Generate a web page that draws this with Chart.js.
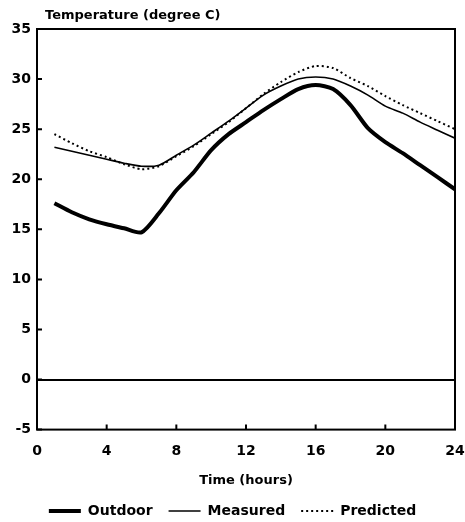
<!DOCTYPE html>
<html>
<head>
<meta charset="utf-8">
<script src="https://cdn.jsdelivr.net/npm/chart.js@4"></script>
<style>
  html, body { margin: 0; padding: 0; background: #fff; }
  #wrap { width: 465px; height: 522px; }
</style>
</head>
<body>
<div id="wrap"><canvas id="tempChart"></canvas></div>
<script>
// hours of the day, one reading per hour
const hours = [1, 2, 3, 4, 5, 6, 7, 8, 9, 10, 11, 12, 13, 14, 15, 16, 17, 18, 19, 20, 21, 22, 23, 24];

const outdoor = [17.6, 16.7, 16.0, 15.5, 15.1, 14.7, 16.6, 18.9, 20.7, 22.9, 24.5, 25.7, 26.9, 28.0, 29.0, 29.4, 29.0, 27.4, 25.1, 23.7, 22.6, 21.4, 20.2, 19.0];
const measured = [23.2, 22.8, 22.4, 22.0, 21.6, 21.3, 21.4, 22.4, 23.4, 24.6, 25.8, 27.1, 28.4, 29.3, 30.0, 30.2, 30.0, 29.3, 28.4, 27.3, 26.6, 25.7, 24.9, 24.1];
const predicted = [24.5, 23.6, 22.8, 22.2, 21.5, 21.0, 21.3, 22.3, 23.3, 24.5, 25.7, 27.1, 28.5, 29.7, 30.7, 31.3, 31.1, 30.1, 29.3, 28.3, 27.4, 26.6, 25.8, 25.0];

const xTicks = [0, 4, 8, 12, 16, 20, 24];
const yTicks = [-5, 0, 5, 10, 15, 20, 25, 30, 35];

const toPoints = vals => hours.map((h, i) => ({x: h, y: vals[i]}));

const fontFam = "'DejaVu Sans', sans-serif";

// frame, inward ticks and the axis caption at the top
const framePlugin = {
  id: 'frame',
  afterDraw(chart) {
    const {ctx, chartArea: a, scales} = chart;
    ctx.save();
    ctx.strokeStyle = '#000';
    ctx.lineWidth = 2;
    ctx.strokeRect(a.left, a.top, a.right - a.left, a.bottom - a.top);
    ctx.beginPath();
    yTicks.forEach(v => {
      const y = scales.y.getPixelForValue(v);
      ctx.moveTo(a.left, y);
      ctx.lineTo(a.left + 5, y);
    });
    xTicks.forEach(v => {
      const x = scales.x.getPixelForValue(v);
      ctx.moveTo(x, a.bottom);
      ctx.lineTo(x, a.bottom - 5);
    });
    ctx.stroke();
    ctx.fillStyle = '#000';
    ctx.font = 'bold 13px ' + fontFam;
    ctx.textBaseline = 'alphabetic';
    ctx.fillText('Temperature (degree C)', a.left + 8, a.top - 10);
    ctx.restore();
  }
};

new Chart(document.getElementById('tempChart'), {
  type: 'line',
  data: {
    datasets: [
      {
        label: 'Outdoor',
        data: toPoints(outdoor),
        borderColor: '#000',
        backgroundColor: '#000',
        borderWidth: 4,
        pointRadius: 0,
        pointStyle: 'line',
        tension: 0.25
      },
      {
        label: 'Measured',
        data: toPoints(measured),
        borderColor: '#000',
        backgroundColor: '#000',
        borderWidth: 1.6,
        pointRadius: 0,
        pointStyle: 'line',
        tension: 0.25
      },
      {
        label: 'Predicted',
        data: toPoints(predicted),
        borderColor: '#000',
        backgroundColor: '#000',
        borderWidth: 2,
        borderDash: [2, 3],
        pointRadius: 0,
        pointStyle: 'line',
        tension: 0.25
      }
    ]
  },
  options: {
    responsive: true,
    maintainAspectRatio: false,
    animation: false,
    layout: { padding: { top: 29, right: 0, left: 0, bottom: -6 } },
    plugins: {
      tooltip: { enabled: false },
      legend: {
        position: 'bottom',
        labels: {
          usePointStyle: true,
          pointStyleWidth: 32,
          boxHeight: 10,
          padding: 16,
          color: '#000',
          font: { family: fontFam, size: 14, weight: 'bold' },
          generateLabels: chart => {
            const items = Chart.defaults.plugins.legend.labels.generateLabels(chart);
            items.forEach(it => {
              const ds = chart.data.datasets[it.datasetIndex];
              it.lineDash = ds.borderDash || [];
              it.lineWidth = ds.borderWidth;
            });
            return items;
          }
        }
      }
    },
    scales: {
      x: {
        type: 'linear',
        min: 0,
        max: 24,
        afterBuildTicks: s => { s.ticks = xTicks.map(v => ({value: v})); },
        afterFit: s => { s.paddingRight = 10; s.paddingLeft = 0; },
        border: { display: false },
        grid: { display: false },
        ticks: {
          padding: 5,
          color: '#000',
          font: { family: fontFam, size: 14, weight: 'bold' }
        },
        title: {
          display: true,
          text: 'Time (hours)',
          color: '#000',
          padding: { top: 8, bottom: 0 },
          font: { family: fontFam, size: 13, weight: 'bold' }
        }
      },
      y: {
        min: -5,
        max: 35,
        afterBuildTicks: s => { s.ticks = yTicks.map(v => ({value: v})); },
        afterFit: s => { s.width = 37; },
        border: { display: false },
        grid: {
          drawTicks: false,
          color: c => c.tick && c.tick.value === 0 ? '#000' : 'rgba(0,0,0,0)',
          lineWidth: 2
        },
        ticks: {
          padding: 6,
          color: '#000',
          font: { family: fontFam, size: 14, weight: 'bold' }
        }
      }
    }
  },
  plugins: [framePlugin]
});
</script>
</body>
</html>
